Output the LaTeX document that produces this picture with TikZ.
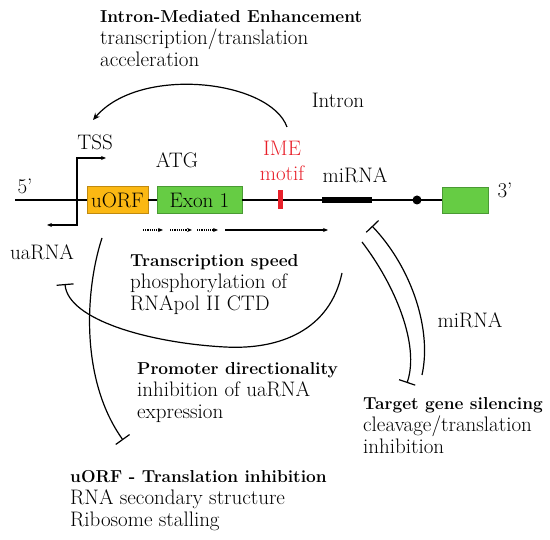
\documentclass[tikz,border=0pt]{standalone}
\usetikzlibrary{arrows.meta}
\definecolor{uorffill}{HTML}{FBB813}
\definecolor{uorfedge}{HTML}{C08A10}
\definecolor{exonfill}{HTML}{66CC44}
\definecolor{exonedge}{HTML}{4A9A34}
\definecolor{imered}{HTML}{E8202A}
\tikzstyle{txt} = [
    font=\fontsize{21}{22}\selectfont,
    inner sep=0pt
]
\tikzstyle{block} = [
    txt,
    align=left,
    anchor=base west
]
\tikzstyle{uorfbox} = [
    rectangle,
    minimum height=27pt,
    inner sep=0pt,
    draw=uorfedge,
    fill=uorffill,
    line width=0.8pt,
    font=\fontsize{21}{22}\selectfont
]
\tikzstyle{exonbox} = [
    rectangle,
    minimum height=27pt,
    inner sep=0pt,
    draw=exonedge,
    fill=exonfill,
    line width=0.8pt,
    font=\fontsize{21}{22}\selectfont
]
\tikzstyle{mainline} = [line width=1.4pt]
\tikzstyle{arrow} = [line width=1.2pt,-{Stealth[length=7pt,width=6pt]}]
\tikzstyle{dotarrow} = [line width=1.2pt,densely dotted,-{Stealth[length=5pt,width=4pt]}]
\tikzstyle{inhibit} = [line width=1.2pt,-{Bar[width=17pt]}]
\newcommand{\hd}[1]{{\fontsize{17.3}{22}\selectfont\bfseries #1}}

\begin{document}
\begin{tikzpicture}[x=1pt, y=-1pt]
\useasboundingbox (0,0) rectangle (550,540);

% gene
\coordinate (fivep) at (15,200);
\node (uorf) [uorfbox, minimum width=61pt] at (117.5,200) {uORF};
\node (exon1) [exonbox, minimum width=85pt] at (199.5,200) {Exon 1};
\node (exon2) [exonbox, minimum width=46pt, minimum height=26pt] at (465,200) {};

\draw [mainline] (fivep) -- (uorf.west);
\draw [mainline] (uorf.east) -- (exon1.west);
\draw [mainline] (exon1.east) -- (exon2.west);

\node (ime) [rectangle, fill=imered, minimum width=5pt, minimum height=19pt, inner sep=0pt] at (280.5,199.5) {};
\coordinate (mirs) at (322,200);
\coordinate (mire) at (372,200);
\draw [line width=6pt] (mirs) -- (mire);
\node (polya) [circle, fill, inner sep=0pt, minimum size=9pt] at (417,200) {};

% labels
\node (five) [txt] at (25,186) {5'};
\node (three) [txt] at (505,190) {3'};
\node (tss) [txt] at (95,142) {TSS};
\node (atg) [txt] at (177,160) {ATG};
\node (imetop) [txt, text=imered] at (282,148) {IME};
\node (imebot) [txt, text=imered] at (282,173) {motif};
\node (mirna) [txt] at (355,175) {miRNA};
\node (intron) [txt] at (338,100) {Intron};
\node (uarna) [txt] at (42,252) {uaRNA};
\node (mirna2) [txt] at (470,320) {miRNA};

% TSS
\coordinate (tssl) at (47,225);
\coordinate (tssr) at (106,158);
\draw [line width=1.2pt, {Stealth[length=5pt,width=4pt]}-{Stealth[length=5pt,width=4pt]}] (tssl) -- ++(30,0) |- (tssr);

% transcription
\foreach \a/\b in {143/163,170/192,197/218}
    \draw [dotarrow] (\a,230) -- (\b,230);
\coordinate (runs) at (225,230);
\coordinate (rune) at (328,230);
\draw [dotarrow, solid] (runs) -- (rune);

% text blocks
\node (imeblock) [block] at (100,67)
{\hd{Intron-Mediated Enhancement}\\transcription/translation\\acceleration};
\node (tsblock) [block] at (130,311)
{\hd{Transcription speed}\\phosphorylation of\\RNApol II CTD};
\node (pdblock) [block] at (137,419)
{\hd{Promoter directionality}\\inhibition of uaRNA\\expression};
\node (tgblock) [block] at (363,454)
{\hd{Target gene silencing}\\cleavage/translation\\inhibition};
\node (uoblock) [block] at (70,527)
{\hd{uORF - Translation inhibition}\\RNA secondary structure\\Ribosome stalling};

% effects
\coordinate (imearc) at (287,127);
\coordinate (tsstip) at (93,120);
\draw [arrow] (imearc) .. controls (270,80) and (140,65) .. (tsstip);

\coordinate (tscs) at (342,273);
\coordinate (tscm) at (225,347);
\coordinate (tsce) at (65,284);
\draw [inhibit] (tscs) .. controls (330,330) and (280,350) .. (tscm)
    .. controls (150,343) and (68,320) .. (tsce);

\coordinate (uocs) at (102,238);
\coordinate (uoce) at (123,440);
\draw [inhibit] (uocs) .. controls (85,290) and (80,380) .. (uoce);

\coordinate (mios) at (372,226);
\coordinate (mioe) at (422,375);
\draw [line width=1.2pt, {Bar[width=17pt]}-] (mios) .. controls (412,268) and (432,330) .. (mioe);
\coordinate (miis) at (362,242);
\coordinate (miie) at (407,383);
\draw [inhibit] (miis) .. controls (395,285) and (420,345) .. (miie);

\end{tikzpicture}
\end{document}
